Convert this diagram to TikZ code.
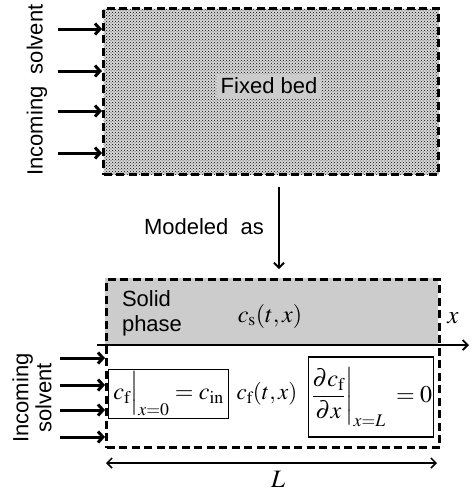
\documentclass[tikz,border=0pt]{standalone}
\usepackage{mathptmx}
\usepackage[no-math]{fontspec}
\setmainfont{Liberation Sans}
\usepackage{amsmath}
\usetikzlibrary{patterns,positioning,arrows.meta}

\begin{document}
\begin{tikzpicture}[x=1pt,y=-1pt,
  bedbox/.style={draw,line width=3pt,dash pattern=on 8pt off 4.5pt,inner sep=0pt,anchor=north west},
  inflow/.style={-{Straight Barb[length=5pt,width=11pt]},line width=3pt},
  thinarrow/.style={-{Straight Barb[length=5pt,width=10pt]},line width=1.8pt},
  lbl/.style={font=\fontsize{22}{25}\selectfont},
  bcbox/.style={draw,line width=1.2pt,inner sep=2pt,font=\fontsize{24}{26}\selectfont}]
\useasboundingbox (0,0) rectangle (474,491);

% fixed bed
\node[bedbox,preaction={fill=gray!30},pattern=crosshatch dots,pattern color=black,minimum width=335,minimum height=166] (bed) at (102,7) {};
\node[lbl,fill=gray!40,inner sep=4pt] (bedlabel) at (269,86) {Fixed bed};
\node[lbl,rotate=90] (intop) at (37,90) {Incoming\ \ solvent};
\foreach \y [count=\i] in {29,71,111,153}
  {\coordinate (a\i) at (58,\y);
   \draw[inflow] (a\i) -- (a\i -| bed.west);}

% modeled as
\coordinate (mtop) at (279,187);
\coordinate (mend) at (279,269);
\draw[thinarrow] (mtop) -- (mend);
\node[lbl] (modeled) at (204,227) {Modeled\ \ as};

% model
\coordinate (xstart) at (97,345);
\coordinate (xend) at (469,345);
\fill[gray!40] (105,278) rectangle (438,345);
\node[bedbox,minimum width=333,minimum height=168] (model) at (105,278) {};
\draw[thinarrow] (xstart) -- (xend);
\node[font=\fontsize{25}{28}\selectfont] (xlbl) at (453,318) {$x$};
\node[lbl,align=left] (solid) at (152,313) {Solid\\phase};
\node[font=\fontsize{24}{27}\selectfont] (cs) at (270,316) {$c_{\mathrm{s}}(t,x)$};
\node[lbl,rotate=90,align=center,font=\fontsize{22}{23}\selectfont] (inbot) at (32,398) {Incoming\\solvent};
\foreach \y [count=\i] in {358,385,410,437}
  {\coordinate (b\i) at (60,\y);
   \draw[inflow] (b\i) -- (b\i -| model.west);}

% boundary conditions
\node[bcbox,minimum width=120,minimum height=48,anchor=west] (bc0) at (108,394)
  {$c_{\mathrm{f}}\Big|_{x=0}=c_{\mathrm{in}}$};
\node[font=\fontsize{23}{26}\selectfont] (cf) at (267,394) {$c_{\mathrm{f}}(t,x)$};
\node[bcbox,minimum width=125,minimum height=80,inner sep=1pt,anchor=west] (bcL) at (308,397)
  {$\left.\dfrac{\partial c_{\mathrm{f}}}{\partial x}\right|_{x=L}\hspace{5pt}=0$};

% length
\coordinate (lleft) at (106,463);
\coordinate (lright) at (437,463);
\draw[{Straight Barb[length=5pt,width=10pt]}-{Straight Barb[length=5pt,width=10pt]},line width=1.5pt] (lleft) -- (lright);
\node[font=\fontsize{25}{28}\selectfont] (ltext) at (278,479) {$L$};
\end{tikzpicture}
\end{document}
